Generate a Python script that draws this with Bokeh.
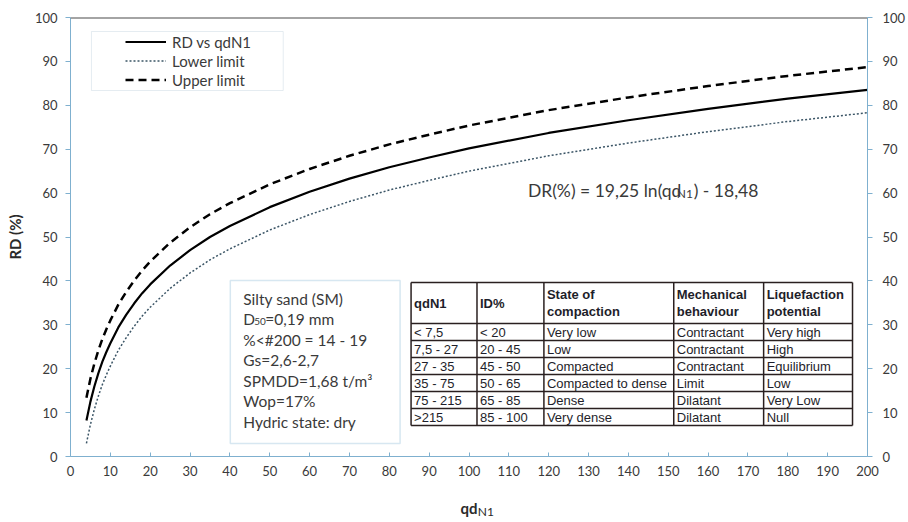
from bokeh.plotting import figure
from bokeh.models import (LinearAxis, Range1d, Legend, LegendItem, Label,
                          BoxAnnotation, Span, FixedTicker)
from bokeh.core.properties import value
from bokeh.embed import file_html
from bokeh.resources import INLINE

# ---- data -------------------------------------------------------------
# Relative density vs normalised dynamic cone resistance,
# DR(%) = 19,25 ln(qdN1) - 18,48, with its lower and upper limits
qd = [4, 5, 6, 7, 8, 9, 10, 12, 14, 16, 18, 20, 25, 30, 35, 40, 50, 60, 70,
      80, 90, 100, 120, 140, 160, 180, 200]
rd = [8.2, 12.5, 16.0, 19.0, 21.6, 23.8, 25.8, 29.4, 32.3, 34.9, 37.2, 39.2,
      43.5, 47.0, 50.0, 52.5, 56.8, 60.3, 63.3, 65.9, 68.1, 70.2, 73.7, 76.6,
      79.2, 81.5, 83.5]
rd_upper = [13.4, 17.7, 21.2, 24.2, 26.8, 29.0, 31.0, 34.6, 37.5, 40.1, 42.4,
            44.4, 48.7, 52.2, 55.2, 57.7, 62.0, 65.5, 68.5, 71.1, 73.3, 75.4,
            78.9, 81.8, 84.4, 86.7, 88.7]
rd_lower = [3.0, 7.3, 10.8, 13.8, 16.4, 18.6, 20.6, 24.2, 27.1, 29.7, 32.0,
            34.0, 38.3, 41.8, 44.8, 47.3, 51.6, 55.1, 58.1, 60.7, 62.9, 65.0,
            68.5, 71.4, 74.0, 76.3, 78.3]

x_ticks = list(range(0, 201, 10))
y_ticks = list(range(0, 101, 10))

x_title = ["qd", "N1"]
y_title = "RD (%)"

series_names = ["RD vs qdN1", "Lower limit", "Upper limit"]

equation = ["DR(%) = 19,25 ln(qd", "N1", ") - 18,48"]

soil_lines = ["Silty sand (SM)", None, "%<#200 = 14 - 19", "Gs=2,6-2,7",
              "SPMDD=1,68 t/m\u00b3", "Wop=17%", "Hydric state: dry"]
soil_d50 = ["D", "50", "=0,19  mm"]

table_header = [["qdN1"], ["ID%"], ["State of", "compaction"],
                ["Mechanical", "behaviour"], ["Liquefaction", "potential"]]
col_qd = ["< 7,5", "7,5 - 27", "27 - 35", "35 - 75", "75 - 215", ">215"]
col_id = ["< 20", "20 - 45", "45 - 50", "50 - 65", "65 - 85", "85 - 100"]
col_state = ["Very low", "Low", "Compacted", "Compacted to dense", "Dense",
             "Very dense"]
col_mech = ["Contractant", "Contractant", "Contractant", "Limit", "Dilatant",
            "Dilatant"]
col_liq = ["Very high", "High", "Equilibrium", "Low", "Very Low", "Null"]

# ---- figure -----------------------------------------------------------
W, H = 908, 522
BL, BR, BT, BB = 70, 40, 17, 66
X0, X1, Y0, Y1 = 0, 200, 0, 100
FW, FH = W - BL - BR, H - BT - BB

FONT = "Lato"
TEXT = "#3a3a3a"
TITLE = "#2a2a2a"
AXIS = "#7fb0cf"


def dx(px):
    """canvas pixel column -> data x"""
    return X0 + (px - BL) * (X1 - X0) / FW


def dy(py):
    """canvas pixel row -> data y"""
    return Y1 - (py - BT) * (Y1 - Y0) / FH


p = figure(width=W, height=H, x_range=Range1d(X0, X1), y_range=Range1d(Y0, Y1),
           output_backend="svg", toolbar_location=None,
           min_border_left=BL, min_border_right=BR,
           min_border_top=BT, min_border_bottom=BB)
p.outline_line_color = None
p.grid.visible = False
p.background_fill_color = "white"
p.border_fill_color = "white"


def style_axis(ax, ticks):
    ax.ticker = FixedTicker(ticks=ticks)
    ax.axis_line_color = AXIS
    ax.major_tick_line_color = AXIS
    ax.minor_tick_line_color = None
    ax.major_label_text_font = FONT
    ax.major_label_text_font_size = "13px"
    ax.major_label_text_color = TEXT


# bottom axis, its title "qd" followed by a subscript "N1" on a bare axis
xa = p.xaxis[0]
style_axis(xa, x_ticks)
xa.major_tick_in = 4
xa.major_tick_out = 0
xa.major_label_standoff = 9
xa.axis_label = x_title[0]
xa.axis_label_text_font = FONT
xa.axis_label_text_font_style = "bold"
xa.axis_label_text_font_size = "15px"
xa.axis_label_text_color = TITLE
xa.axis_label_standoff = 20

sub = LinearAxis(ticker=FixedTicker(ticks=[]), axis_line_color=None,
                 major_tick_line_color=None, minor_tick_line_color=None,
                 axis_label="\u00a0" * 11 + x_title[1],
                 axis_label_text_font=FONT, axis_label_text_font_size="12px",
                 axis_label_text_font_style="normal",
                 axis_label_text_color=TITLE, axis_label_standoff=-16)
p.add_layout(sub, "below")

ya = p.yaxis[0]
style_axis(ya, y_ticks)
ya.major_tick_in = 0
ya.major_tick_out = 5
ya.major_label_standoff = 8
ya.axis_label = y_title
ya.axis_label_text_font = FONT
ya.axis_label_text_font_style = "bold"
ya.axis_label_text_font_size = "15px"
ya.axis_label_text_color = TITLE
ya.axis_label_standoff = 8

right = LinearAxis()
style_axis(right, y_ticks)
right.major_tick_in = 0
right.major_tick_out = 5
right.major_label_standoff = 10
p.add_layout(right, "right")

p.add_layout(Span(location=Y1, dimension="width", line_color="#4a4a4a",
                  line_width=2))

# ---- curves -----------------------------------------------------------
r_main = p.line(qd, rd, line_color="black", line_width=2.2)
r_low = p.line(qd, rd_lower, line_color="#3b5566", line_width=1.5,
               line_dash="2 2")
r_up = p.line(qd, rd_upper, line_color="black", line_width=2.5,
              line_dash="8 5")

legend = Legend(items=[LegendItem(label=n, renderers=[r])
                       for n, r in zip(series_names, [r_main, r_low, r_up])],
                location=(125 - BL, H - BB - 89), padding=0, margin=0,
                spacing=0, glyph_width=41, glyph_height=19, label_height=19,
                label_standoff=6, border_line_color=None,
                background_fill_alpha=0, label_text_font=FONT,
                label_text_font_size="15px", label_text_color=TEXT)
p.add_layout(legend)
p.add_layout(BoxAnnotation(left=dx(91), right=dx(283), top=dy(31),
                           bottom=dy(90), fill_color=None,
                           line_color="#a9bfcf", line_width=1))


def label(px, py, text, size, bold=False, font=FONT, color=TEXT):
    p.add_layout(Label(x=dx(px), y=dy(py), text=text, text_font=font,
                       text_font_size=f"{size}px",
                       text_font_style="bold" if bold else "normal",
                       text_color=color, text_align="left",
                       text_baseline="middle"))


# fitted equation
label(528, 190, equation[0], 17.5)
label(677, 193, equation[1], 12)
label(694, 190, equation[2], 17.5)

# ---- soil description box ---------------------------------------------
p.add_layout(BoxAnnotation(left=dx(230), right=dx(400), top=dy(280),
                           bottom=dy(443), fill_color="white", fill_alpha=1,
                           line_color="#7aaed0", line_width=1.5))
for i, line in enumerate(soil_lines):
    y = 298 + 20.5 * i
    if line is None:
        label(243, y, soil_d50[0], 15.5)
        label(254, y + 2, soil_d50[1], 10)
        label(265, y, soil_d50[2], 15.5)
    else:
        label(243, y, line, 15.5)

# ---- classification table ---------------------------------------------
col_px = [411, 477, 544, 674, 764, 853]
row_px = [282, 323, 340, 357, 374, 391, 408, 425]
TAB_FONT = value("Liberation Sans")
TAB_SIZE = value("13px")
TAB_TEXT = "#1e1e2a"
TAB_LINE = "#2a2020"

p.quad(left=[dx(col_px[0])], right=[dx(col_px[-1])], top=[dy(row_px[0])],
       bottom=[dy(row_px[-1])], fill_color="white", line_color=None)
p.segment(x0=[dx(c) for c in col_px], x1=[dx(c) for c in col_px],
          y0=[dy(row_px[0])] * len(col_px), y1=[dy(row_px[-1])] * len(col_px),
          line_color=TAB_LINE, line_width=1.5)
p.segment(x0=[dx(col_px[0])] * len(row_px), x1=[dx(col_px[-1])] * len(row_px),
          y0=[dy(r) for r in row_px], y1=[dy(r) for r in row_px],
          line_color=TAB_LINE, line_width=1.5)

hx, hy, ht = [], [], []
for c, lines in enumerate(table_header):
    mid = (row_px[0] + row_px[1]) / 2
    offs = [0] if len(lines) == 1 else [-8.5, 8.5]
    for t, o in zip(lines, offs):
        hx.append(dx(col_px[c] + 3))
        hy.append(dy(mid + o))
        ht.append(t)
p.text(x=hx, y=hy, text=ht, text_font=TAB_FONT, text_font_size=TAB_SIZE,
       text_font_style="bold", text_color=TAB_TEXT, text_baseline="middle")

bx, by, bt = [], [], []
for c, col in enumerate([col_qd, col_id, col_state, col_mech, col_liq]):
    for r, t in enumerate(col):
        bx.append(dx(col_px[c] + 3))
        by.append(dy((row_px[r + 1] + row_px[r + 2]) / 2))
        bt.append(t)
p.text(x=bx, y=by, text=bt, text_font=TAB_FONT, text_font_size=TAB_SIZE,
       text_color=TAB_TEXT, text_baseline="middle")

open("out.html", "w").write(file_html(p, INLINE))
